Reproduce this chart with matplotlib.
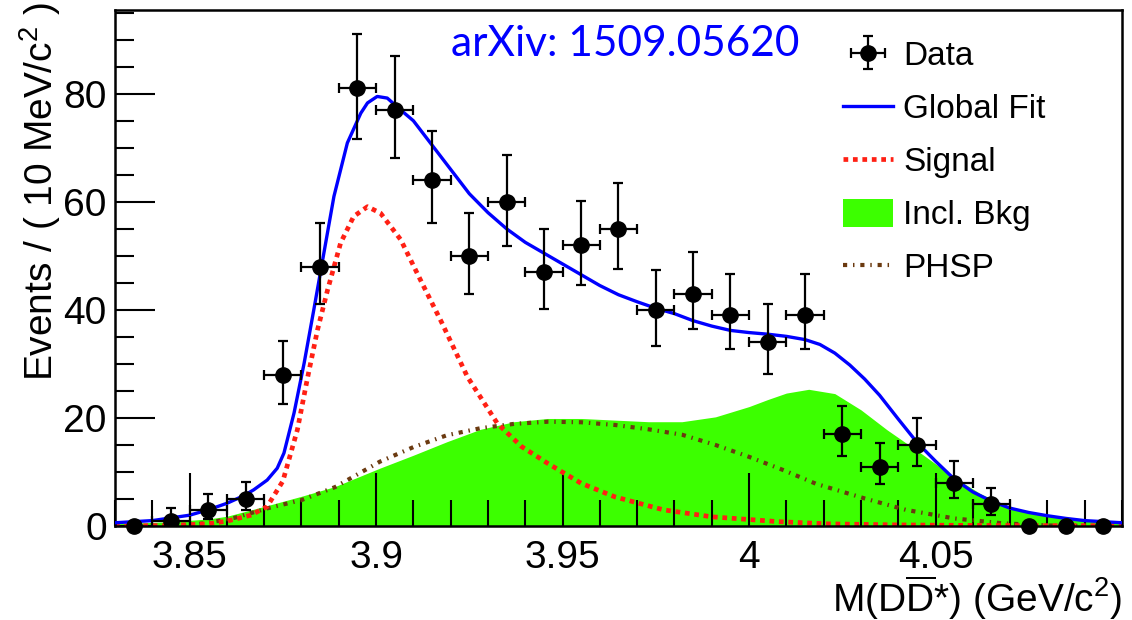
import numpy as np
import matplotlib
matplotlib.use("Agg")
import matplotlib.pyplot as plt
from matplotlib.ticker import MultipleLocator

plt.rcParams["font.family"] = ["Liberation Sans", "DejaVu Sans"]
plt.rcParams["mathtext.fontset"] = "custom"
plt.rcParams["mathtext.rm"] = "Liberation Sans"
plt.rcParams["mathtext.it"] = "Liberation Sans:italic"
plt.rcParams["mathtext.default"] = "regular"

# binned data, 10 MeV bins
mass = [3.835, 3.845, 3.855, 3.865, 3.875, 3.885, 3.895, 3.905, 3.915,
        3.925, 3.935, 3.945, 3.955, 3.965, 3.975, 3.985, 3.995, 4.005,
        4.015, 4.025, 4.035, 4.045, 4.055, 4.065, 4.075, 4.085, 4.095]
events = [0, 1, 3, 5, 28, 48, 81, 77, 64, 50, 60, 47, 52, 55, 40, 43,
          39, 34, 39, 17, 11, 15, 8, 4, 0, 0, 0]
err_lo = [0, 1.0, 1.7, 2.1, 5.4, 7.0, 9.3, 8.9, 8.0, 7.1, 8.1, 6.8, 7.4,
          7.4, 6.6, 6.6, 6.3, 5.9, 6.3, 4.0, 3.2, 3.9, 2.9, 2.0, 0, 0, 0]
err_hi = [0, 2.3, 2.9, 3.1, 6.3, 8.0, 10.0, 10.0, 9.1, 8.0, 8.6, 8.0,
          8.2, 8.5, 7.4, 7.8, 7.6, 7.0, 7.6, 5.2, 4.4, 5.0, 4.0, 3.0, 0, 0, 0]
bin_half = 0.005

# global fit
fit_x = [3.830, 3.840, 3.850, 3.855, 3.860, 3.8645, 3.8672, 3.8708,
         3.8735, 3.8753, 3.878, 3.8807, 3.8833, 3.886, 3.8887, 3.8923,
         3.8959, 3.8977, 3.9003, 3.903, 3.9066, 3.910, 3.915, 3.920, 3.925,
         3.930, 3.935, 3.940, 3.945, 3.950, 3.955, 3.960, 3.965, 3.970,
         3.975, 3.980, 3.985, 3.990, 3.995, 4.000, 4.005, 4.010, 4.015,
         4.019, 4.023, 4.027, 4.031, 4.035, 4.040, 4.045, 4.050, 4.055,
         4.060, 4.065, 4.070, 4.075, 4.080, 4.085, 4.090, 4.095, 4.100]
fit_y = [0.6, 1.0, 2.0, 3.0, 4.2, 5.6, 6.7, 8.5, 10.7, 13.5, 20.9, 30.1,
         40, 50.5, 61, 70.9, 76.4, 78.3, 79.5, 79.2, 77, 75, 70.5, 66, 61.5,
         58, 55, 52.5, 50.5, 48.5, 46.5, 44.5, 42.8, 41.5, 40.3, 39.3, 38,
         37, 36.2, 35.8, 35.5, 35.1, 34.5, 33.6, 32.0, 29.8, 27.2, 24.2,
         19.8, 15.5, 12, 8.7, 6.3, 4.6, 3.3, 2.5, 1.9, 1.4, 1.0, 0.8, 0.6]

# signal component
sig_x = [3.830, 3.845, 3.855, 3.860, 3.8664, 3.8708, 3.875, 3.8789,
         3.8815, 3.8843, 3.887, 3.8905, 3.894, 3.8977, 3.9012, 3.9066,
         3.912, 3.9175, 3.9245, 3.9325, 3.939, 3.946, 3.955, 3.964, 3.977,
         3.990, 4.008, 4.021, 4.040, 4.060, 4.100]
sig_y = [0.0, 0.1, 0.4, 0.9, 2.0, 3.6, 8.3, 17.8, 27, 36.3, 43.7, 52.4,
         57.3, 59.1, 57.9, 53, 45.4, 37.8, 27.6, 19, 14.7, 11.6, 7.9, 5.4,
         3.0, 1.7, 0.8, 0.4, 0.2, 0.1, 0.05]

# inclusive background
bkg_x = [3.830, 3.845, 3.855, 3.860, 3.871, 3.880, 3.889, 3.901, 3.910,
         3.919, 3.928, 3.937, 3.946, 3.955, 3.964, 3.973, 3.982, 3.991,
         4.000, 4.005, 4.010, 4.016, 4.023, 4.030, 4.037, 4.046, 4.055,
         4.062, 4.068, 4.075, 4.081, 4.088, 4.094, 4.100]
bkg_y = [0.4, 0.8, 1.3, 1.8, 3.8, 5.5, 7.3, 10.7, 13.1, 15.6, 17.9, 19.3,
         19.9, 19.9, 19.6, 19.3, 19.3, 20.2, 22.1, 23.4, 24.6, 25.3, 24.5,
         21.5, 17.8, 13.5, 9.0, 6.0, 4.0, 2.5, 1.7, 1.1, 0.8, 0.6]

# phase space
phsp_x = [3.848, 3.855, 3.862, 3.871, 3.880, 3.889, 3.901, 3.910, 3.919,
          3.928, 3.937, 3.946, 3.955, 3.964, 3.973, 3.982, 3.991, 4.000,
          4.009, 4.018, 4.031, 4.042, 4.055, 4.068, 4.080, 4.090]
phsp_y = [0.0, 0.6, 1.5, 3.3, 4.8, 7.2, 11.9, 14.6, 16.8, 18.1, 18.9,
          19.3, 19.2, 18.7, 17.9, 16.9, 15.0, 12.8, 10.4, 7.8, 5.1, 3.0,
          1.4, 0.5, 0.1, 0.0]

fig = plt.figure(figsize=(11.32, 6.2), dpi=100)
ax = fig.add_axes([115 / 1132, 1 - 526 / 620, 1007 / 1132, 516 / 620])

ax.fill_between(bkg_x, bkg_y, 0, color="#3cff00", linewidth=0,
                zorder=1, label="Incl. Bkg")
ax.plot(phsp_x, phsp_y, color="#6b3a10", linewidth=3.0,
        linestyle=(0, (1.0, 1.4, 0.35, 1.4)), zorder=2, label="PHSP")
ax.plot(sig_x, sig_y, color="#ff2014", linewidth=3.4,
        linestyle=(0, (1.0, 1.0)), zorder=2, label="Signal")
ax.plot(fit_x, fit_y, color="#0000ff", linewidth=2.4, zorder=3,
        label="Global Fit")

mass = np.array(mass)
events = np.array(events)
nz = events > 0
data = ax.errorbar(mass[nz], events[nz],
                   yerr=[np.array(err_lo)[nz], np.array(err_hi)[nz]],
                   xerr=bin_half, fmt="o", color="black", ecolor="black",
                   markersize=11, elinewidth=1.6, capsize=3.5,
                   capthick=1.6, zorder=4, label="Data")
ax.plot(mass[~nz], events[~nz], "o", color="black", markersize=11,
        zorder=4, clip_on=False)

ax.set_xlim(3.83, 4.10)
ax.set_ylim(0, 95.5)
ax.xaxis.set_minor_locator(MultipleLocator(0.01))
ax.yaxis.set_major_locator(MultipleLocator(20))
ax.yaxis.set_minor_locator(MultipleLocator(5))
ax.set_xticks([3.85, 3.9, 3.95, 4.0, 4.05])
ax.set_xticklabels(["3.85", "3.9", "3.95", "4", "4.05"])
ax.tick_params(axis="x", which="major", direction="in", length=38,
               width=1.5, labelsize=28, pad=10)
ax.tick_params(axis="x", which="minor", direction="in", length=19,
               width=1.5)
ax.tick_params(axis="y", which="major", direction="in", length=29,
               width=1.5, labelsize=28, pad=6)
ax.tick_params(axis="y", which="minor", direction="in", length=14,
               width=1.5)
for sp in ax.spines.values():
    sp.set_linewidth(1.8)

ax.set_ylabel("Events / ( 10 MeV/c$^{2}$ )", fontsize=28, loc="top")
ax.yaxis.set_label_coords(-0.052, 1.015)
ax.set_xlabel(r"M(D$\overline{\mathrm{D}}$*) (GeV/c$^{2}$)", fontsize=28,
              loc="right")
ax.xaxis.set_label_coords(1.0, -0.092)

handles = [data, ax.lines[2], ax.lines[1], ax.collections[0], ax.lines[0]]
labels = ["Data", "Global Fit", "Signal", "Incl. Bkg", "PHSP"]
ax.legend(handles, labels, loc="upper left",
          bbox_to_anchor=(843 / 1132, 1 - 40 / 620),
          bbox_transform=fig.transFigure, frameon=False, fontsize=24,
          borderpad=0, borderaxespad=0, handlelength=1.5,
          handletextpad=0.3, labelspacing=0.62, handleheight=0.9)

fig.text(625 / 1132, 1 - 44 / 620, "arXiv: 1509.05620", color="#0000ff",
         fontsize=30.5, family=["Lato", "DejaVu Sans"], ha="center",
         va="center")

fig.savefig("out.png", dpi=100)
